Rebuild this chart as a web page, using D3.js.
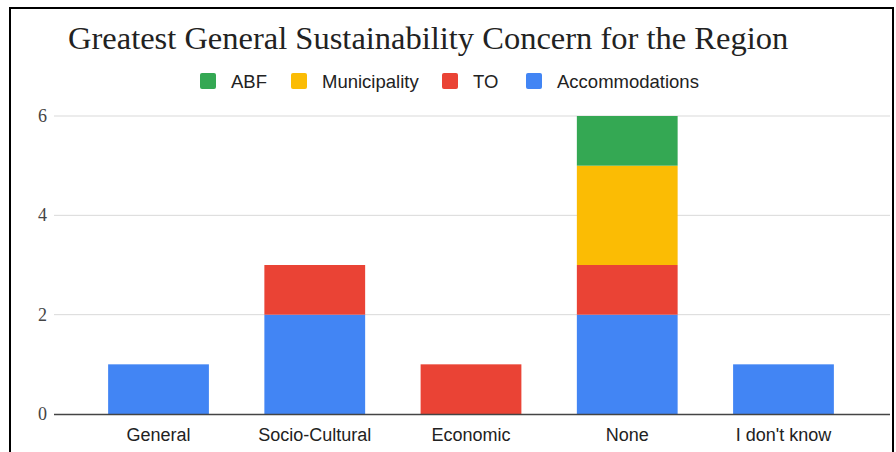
<!DOCTYPE html>
<html><head><meta charset="utf-8">
<script src="https://cdn.jsdelivr.net/npm/d3@7"></script>
<style>body{margin:0;background:#fff}svg{display:block}</style>
</head><body>
<svg id="c" width="896" height="452"></svg>
<script>
const categories = ["General","Socio-Cultural","Economic","None","I don't know"];
const accommodations = [1,2,0,2,1];
const to = [0,1,1,1,0];
const municipality = [0,0,0,2,0];
const abf = [0,0,0,1,0];
const seriesNames = ["Accommodations","TO","Municipality","ABF"];
const legendOrder = ["ABF","Municipality","TO","Accommodations"];
const colors = {ABF:"#34a853", Municipality:"#fbbc04", TO:"#ea4335", Accommodations:"#4285f4"};
const yTicks = [0,2,4,6];
const title = "Greatest General Sustainability Concern for the Region";

const rows = categories.map((c,i)=>({cat:c, Accommodations:accommodations[i], TO:to[i], Municipality:municipality[i], ABF:abf[i]}));
const stack = d3.stack().keys(seriesNames)(rows);

const svg = d3.select("#c");
svg.append("rect").attr("x",0).attr("y",0).attr("width",896).attr("height",452).attr("fill","#fff");
svg.append("path").attr("d","M10,460 V8 H893 V460").attr("fill","none").attr("stroke","#000").attr("stroke-width",2);

const x = d3.scaleBand().domain(categories).range([80,862]).paddingInner(0.355).paddingOuter(0.18);
const y = d3.scaleLinear().domain([0,6]).range([414,116]);

svg.append("g").selectAll("line").data(yTicks.filter(t=>t>0)).join("line")
  .attr("x1",54).attr("x2",890).attr("y1",d=>y(d)).attr("y2",d=>y(d))
  .attr("stroke","#d9d9d9").attr("stroke-width",1);

svg.append("g").selectAll("text").data(yTicks).join("text")
  .attr("x",47).attr("y",d=>y(d)+6).attr("text-anchor","end")
  .attr("font-family","Liberation Serif, Times New Roman, serif").attr("font-size",18).attr("fill","#444")
  .text(d=>d);

svg.append("g").selectAll("g").data(stack).join("g").attr("fill",d=>colors[d.key])
  .selectAll("rect").data(d=>d).join("rect")
  .attr("x",d=>x(d.data.cat)).attr("width",x.bandwidth())
  .attr("y",d=>y(d[1])).attr("height",d=>y(d[0])-y(d[1]));

svg.append("line").attr("x1",54).attr("x2",890).attr("y1",y(0)+0.5).attr("y2",y(0)+0.5).attr("stroke","#444").attr("stroke-width",1.3);

svg.append("g").selectAll("text").data(categories).join("text")
  .attr("x",d=>x(d)+x.bandwidth()/2).attr("y",441).attr("text-anchor","middle")
  .attr("font-family","Liberation Sans, Arial, sans-serif").attr("font-size",18).attr("fill","#222")
  .text(d=>d);

svg.append("text").attr("x",68).attr("y",49).attr("font-family","Liberation Serif, Times New Roman, serif")
  .attr("font-size",32.5).attr("fill","#222").text(title);

const legX = [200,291,442,526];
const lg = svg.append("g").selectAll("g").data(legendOrder).join("g")
  .attr("transform",(d,i)=>`translate(${legX[i]},73)`);
lg.append("rect").attr("width",16).attr("height",16).attr("rx",2).attr("fill",d=>colors[d]);
lg.append("text").attr("x",31).attr("y",14.5).attr("font-family","Liberation Sans, Arial, sans-serif")
  .attr("font-size",18.5).attr("fill","#222").text(d=>d);
</script>
</body></html>
